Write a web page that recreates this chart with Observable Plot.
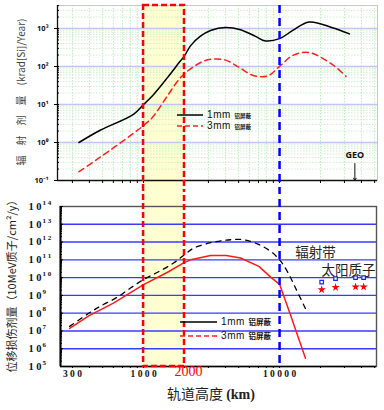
<!DOCTYPE html>
<html><head><meta charset="utf-8">
<script src="https://cdn.jsdelivr.net/npm/d3@7"></script>
<script src="https://cdn.jsdelivr.net/npm/@observablehq/plot@0.6"></script>
<style>
body{margin:0;background:#fff;}
#c{position:relative;width:384px;height:410px;overflow:hidden;font-family:"Liberation Sans",Arial,sans-serif;}
#c svg.plotsvg{position:absolute;left:0;}
.lg{position:absolute;white-space:nowrap;line-height:1;}
</style></head><body><div id="c"></div>
<script>
// ---------- data ----------
const band = [1000, 2000];          // highlighted altitude band (km)
const beltEdge = [10000];           // blue dashed marker (km)
const geoAlt = [35786];             // GEO altitude (km)

// top panel: total dose (krad[Si]/Year)
const topAlt1 = [335,480,843,1000,1164,1500,1870,2000,2220,2620,3110,4010,5170,6660,7890,10000,12500,16500,24500,32700];
const topDose1 = [1.0,2.1,5.5,10,17,51,141,190,355,630,890,1070,930,620,470,540,890,1480,1050,720];
const topAlt3 = [335,480,843,1000,1164,1500,1870,2280,2770,3290,4060,5080,6410,8130,10200,12500,16400,24500,30800];
const topDose3 = [0.17,0.41,1.74,2.8,4.6,17,51,93,138,158,145,93,58,56,107,195,234,112,55];

// bottom panel: displacement damage dose (10MeV protons/cm2/y)
const botAltA = [286,395,483,644,802,1000,1268,1660,2000,2340,3290,4360,5460,6860,8590,10000,11400,13100,15500];
const botDoseA = [1.8e7,9.8e7,2.5e8,8.1e8,2.6e9,7.8e9,2.0e10,6.6e10,1.95e11,4.6e11,1.0e12,1.35e12,1.35e12,7.9e11,3.0e11,1.0e11,2.2e10,2.6e9,1.8e8];
const botAltB = [286,395,600,1000,1500,2000,2220,3110,4050,5170,7050,8590,10000,12000,15500];
const botDoseB = [1.4e7,7.1e7,3.7e8,4.0e9,2.0e10,7.2e10,1.0e11,1.74e11,1.74e11,1.26e11,4.3e10,1.07e10,4.2e9,8.3e7,2.9e5];

// solar protons
const spAlt = [20400, 25800, 36200, 41500];
const spSquare = [5.6e9, 8.7e9, 1.0e10, 1.0e10];
const spStar = [2.1e9, 2.8e9, 3.0e9, 3.0e9];

// annotation labels
const annText = ["辐射带", "太阳质子"];
const annAlt = [18400, 32100];
const annVal = [2.6e11, 2.6e10];

// ticks
const topYTicks = [0.1, 1, 10, 100, 1000];
const topYLabels = ["10⁻¹", "10⁰", "10¹", "10²", "10³"];
const botYTicks = [1e5,1e6,1e7,1e8,1e9,1e10,1e11,1e12,1e13,1e14];
const botYExp = ["5","6","7","8","9","1 0","1 1","1 2","1 3","1 4"];
const botXTicks = [300, 1000, 10000];
const botXLabels = ["3 0 0", "1 0 0 0", "1 0 0 0 0"];
const bandLabel = ["2000"];

// ---------- helpers ----------
const zip = (xs, ys) => xs.map((x, i) => ({x, y: ys[i]}));
const lab = (ticks, labels) => d => labels[ticks.findIndex(t => Math.abs(t - d) / t < 1e-6)];
function minorTicks(lo, hi) {
  const out = [];
  for (let e = Math.floor(Math.log10(lo)); e <= Math.ceil(Math.log10(hi)); e++)
    for (let m = 1; m < 10; m++) { const v = m * 10 ** e; if (v > lo && v < hi) out.push(v); }
  return out;
}
const xTop = [233, 52500], yTop = [0.1, 4030];
const xBot = [245, 51600], yBot = [1e5, 1e14];

const root = document.getElementById("c");

// ---------- top panel ----------
const topPlot = Plot.plot({
  width: 384, height: 190,
  marginLeft: 57, marginRight: 7, marginTop: 5, marginBottom: 10,
  style: {background: "transparent", overflow: "hidden"},
  x: {type: "log", domain: xTop},
  y: {type: "log", domain: yTop},
  marks: [
    Plot.rect([band], {x1: d => d[0], x2: d => d[1], fill: "#ffffd2", insetBottom: -12}),
    Plot.ruleX(minorTicks(xTop[0], xTop[1]), {stroke: "#b0e4b0", strokeWidth: 0.8, strokeDasharray: "1.5,1.5"}),
    Plot.ruleY(minorTicks(yTop[0], yTop[1]).filter(v => !topYTicks.includes(v)), {stroke: "#c0eac0", strokeWidth: 0.8, strokeDasharray: "1.5,1.5"}),
    Plot.ruleY(topYTicks.slice(1), {stroke: "#c4c4f2", strokeWidth: 1.3}),
    Plot.frame({stroke: "#c8c8c8"}),
    Plot.ruleX([xTop[0]], {stroke: "#111", strokeWidth: 1.3}),
    Plot.ruleY([yTop[0]], {stroke: "#111", strokeWidth: 1.3}),
    Plot.axisY({ticks: topYTicks, tickSize: 3, tickPadding: 6, tickFormat: lab(topYTicks, topYLabels), fontSize: 7.5, fontWeight: "bold", fill: "#111", label: null}),
    Plot.axisY({ticks: minorTicks(yTop[0], yTop[1]), tickSize: -2, tickFormat: () => "", label: null}),
    Plot.axisX({ticks: minorTicks(xTop[0], xTop[1]), tickSize: 3, tickFormat: () => "", label: null}),
    Plot.line(zip(topAlt1, topDose1), {x: "x", y: "y", stroke: "#000", strokeWidth: 1.5, curve: "catmull-rom"}),
    Plot.line(zip(topAlt3, topDose3), {x: "x", y: "y", stroke: "#ff2020", strokeWidth: 1.5, strokeDasharray: "6,4", curve: "catmull-rom"}),
    Plot.ruleX(beltEdge, {stroke: "#0000ff", strokeWidth: 2.5, strokeDasharray: "8,5", insetBottom: -12}),
    Plot.rect([band], {x1: d => d[0], x2: d => d[1], fill: "none", stroke: "#ff0000", strokeWidth: 2.5, strokeDasharray: "6,3", insetBottom: -16}),
    Plot.arrow(geoAlt, {x1: d => d, x2: d => d, y1: [0.28], y2: [0.1], stroke: "#111", strokeWidth: 1, headLength: 4}),
    Plot.text(geoAlt, {x: d => d, y: [0.48], text: ["GEO"], fontSize: 9, fontWeight: "bold", fill: "#111"}),
    Plot.text(["辐　射　剂　量　(krad[Si]/Year)"], {frameAnchor: "left", textAnchor: "middle", dx: -36, dy: -1, rotate: -90, fontSize: 10, fill: "#444", fontFamily: "Noto Sans CJK SC"})
  ]
});
topPlot.classList.add("plotsvg");
topPlot.style.top = "0px";
root.appendChild(topPlot);

// ---------- bottom panel ----------
const botPlot = Plot.plot({
  width: 384, height: 220,
  marginLeft: 60, marginRight: 8, marginTop: 16, marginBottom: 44,
  style: {background: "transparent", overflow: "hidden"},
  x: {type: "log", domain: xBot},
  y: {type: "log", domain: yBot},
  marks: [
    Plot.rect([band], {x1: d => d[0], x2: d => d[1], fill: "#ffffd2", insetTop: -20}),
    Plot.ruleY(botYTicks.slice(1, -1), {stroke: "#3a3aff", strokeWidth: 1.4}),
    Plot.frame({stroke: "#555", strokeWidth: 1.4}),
    Plot.ruleX([xBot[0]], {stroke: "#000", strokeWidth: 2}),
    Plot.ruleY([yBot[0]], {stroke: "#000", strokeWidth: 1.5}),
    Plot.axisY({ticks: botYTicks, tickSize: -3, tickPadding: 22, tickFormat: () => "1 0", fontSize: 10.5, fontWeight: "bold", fontFamily: "Liberation Serif", fill: "#111", label: null}),
    Plot.text(botYTicks, {y: d => d, frameAnchor: "left", textAnchor: "start", dx: -18, dy: -4, text: lab(botYTicks, botYExp), fontSize: 7, fontWeight: "bold", fontFamily: "Liberation Serif", fill: "#111"}),
    Plot.axisY({ticks: minorTicks(yBot[0], yBot[1]), tickSize: -2, tickFormat: () => "", label: null}),
    Plot.axisX({ticks: botXTicks, tickSize: 0, tickPadding: 4, tickFormat: lab(botXTicks, botXLabels), fontSize: 9.5, fontWeight: "bold", fontFamily: "Liberation Serif", fill: "#111", label: null}),
    Plot.axisX({ticks: minorTicks(xBot[0], xBot[1]), tickSize: 2, tickFormat: () => "", label: null}),
    Plot.text(bandLabel, {x: [band[1]], frameAnchor: "bottom", dy: 9, dx: 4, text: d => d, fill: "#ff0000", fontSize: 14, fontFamily: "Liberation Serif"}),
    Plot.line(zip(botAltA, botDoseA), {x: "x", y: "y", stroke: "#000", strokeWidth: 1.3, strokeDasharray: "5,5", curve: "catmull-rom"}),
    Plot.line(zip(botAltB, botDoseB), {x: "x", y: "y", stroke: "#ff1a1a", strokeWidth: 1.5}),
    Plot.dot(zip(spAlt, spSquare), {x: "x", y: "y", symbol: "square", r: 2, stroke: "#2020ff", strokeWidth: 1.2, fill: "white"}),
    Plot.dot(zip(spAlt, spStar), {x: "x", y: "y", symbol: "star", r: 2.6, fill: "#ff0000", stroke: "none"}),
    Plot.text(annText, {x: (d, i) => annAlt[i], y: (d, i) => annVal[i], text: d => d, fontSize: 13.5, fill: "#222", fontFamily: "Noto Sans CJK SC"}),
    Plot.ruleX(beltEdge, {stroke: "#0000ff", strokeWidth: 2.5, strokeDasharray: "8,5", insetTop: -20}),
    Plot.rect([band], {x1: d => d[0], x2: d => d[1], fill: "none", stroke: "#ff0000", strokeWidth: 2.5, strokeDasharray: "6,3", insetTop: -24}),
    Plot.text(["位移损伤剂量（10MeV质子/cm²/y）"], {frameAnchor: "left", textAnchor: "middle", dx: -48, dy: -3, rotate: -90, fontSize: 11, fill: "#222", fontFamily: "Noto Sans CJK SC"})
  ]
});
botPlot.classList.add("plotsvg");
botPlot.style.top = "190px";
root.appendChild(botPlot);

// x-axis title
const xt = document.createElement("div");
xt.className = "lg";
xt.style.cssText = "left:167px;top:386px;font-size:14px;color:#222;font-family:'Noto Sans CJK SC';";
xt.innerHTML = "轨道高度 <span style=\"font-family:'Liberation Serif';font-weight:bold;\">(km)</span>";
root.appendChild(xt);

// legends
function legend(x0, x1, y, small) {
  const items = [{t: "1mm", c: "#000", dash: null}, {t: "3mm", c: "#ff2020", dash: "5,3"}];
  items.forEach((it, i) => {
    const yy = y + i * (small ? 11 : 14);
    const s = document.createElementNS("http://www.w3.org/2000/svg", "svg");
    s.setAttribute("width", x1 - x0); s.setAttribute("height", 4);
    s.style.cssText = `position:absolute;left:${x0}px;top:${yy - 2}px;`;
    const l = document.createElementNS("http://www.w3.org/2000/svg", "line");
    l.setAttribute("x1", 0); l.setAttribute("x2", x1 - x0); l.setAttribute("y1", 2); l.setAttribute("y2", 2);
    l.setAttribute("stroke", it.c); l.setAttribute("stroke-width", 1.5);
    if (it.dash) l.setAttribute("stroke-dasharray", it.dash);
    s.appendChild(l); root.appendChild(s);
    const d = document.createElement("div");
    d.className = "lg";
    d.style.cssText = `left:${x1 + 4}px;top:${yy - 5}px;font-size:10px;letter-spacing:0.6px;color:#111;`;
    d.innerHTML = `${it.t} <span style="font-size:${small ? 5.5 : 7.5}px;font-weight:bold;font-family:'Noto Sans CJK SC';letter-spacing:0">铝屏蔽</span>`;
    root.appendChild(d);
  });
}
legend(177, 203, 115, true);
legend(180, 217, 322, false);
</script></body></html>
